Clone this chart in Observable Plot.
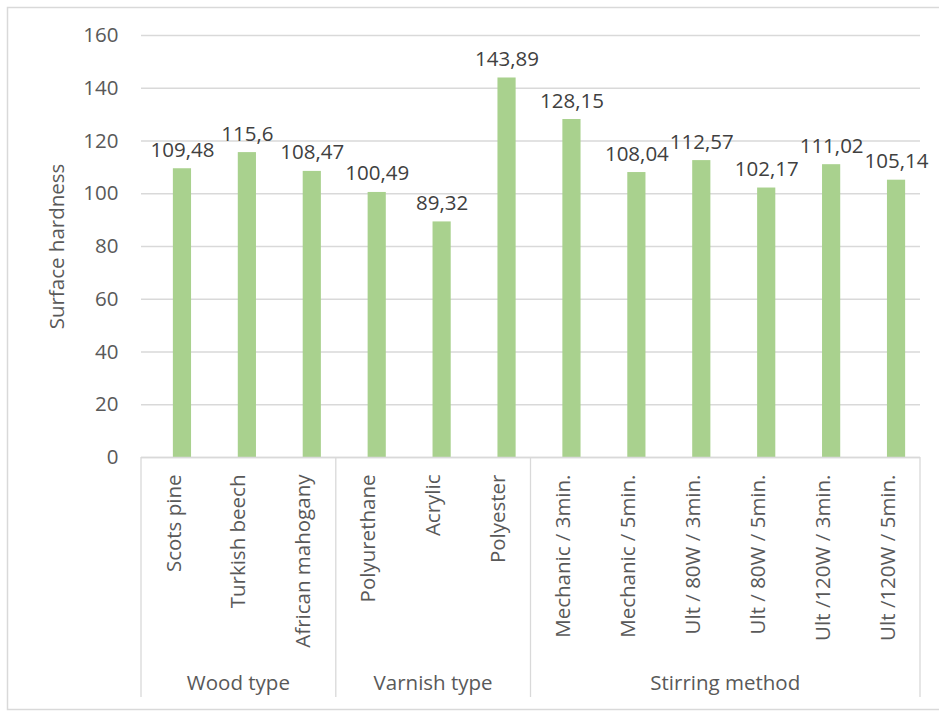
<!DOCTYPE html>
<html><head><meta charset="utf-8">
<script src="https://cdn.jsdelivr.net/npm/d3@7"></script>
<script src="https://cdn.jsdelivr.net/npm/@observablehq/plot@0.6"></script>
<style>body{margin:0;background:#fff} svg{display:block}</style>
</head><body><div id="chart"></div>
<script>
const categories = ["Scots pine", "Turkish beech", "African mahogany", "Polyurethane", "Acrylic", "Polyester",
  "Mechanic / 3min.", "Mechanic / 5min.", "Ult / 80W / 3min.", "Ult / 80W / 5min.", "Ult /120W / 3min.", "Ult /120W / 5min."];
const groupOf = ["Wood type", "Wood type", "Wood type", "Varnish type", "Varnish type", "Varnish type",
  "Stirring method", "Stirring method", "Stirring method", "Stirring method", "Stirring method", "Stirring method"];
const groupNames = ["Wood type", "Varnish type", "Stirring method"];
const values = [109.48, 115.6, 108.47, 100.49, 89.32, 143.89, 128.15, 108.04, 112.57, 102.17, 111.02, 105.14];
const yTicks = [0, 20, 40, 60, 80, 100, 120, 140, 160];

const data = categories.map((c, i) => ({category: c, group: groupOf[i], value: values[i],
  label: String(values[i]).replace(".", ",")}));

const font = "'Open Sans', sans-serif";
const fs = 20.5;
const textColor = "#595959";
const lineColor = "#d9d9d9";
const barShift = 8.5;

const plot = Plot.plot({
  width: 939, height: 711,
  marginLeft: 141, marginRight: 19, marginTop: 35, marginBottom: 254,
  style: {fontFamily: font, fontSize: fs + "px", color: textColor, background: "#fff", overflow: "visible"},
  x: {domain: categories, paddingInner: 0.72, paddingOuter: 0.36, round: false, label: null},
  y: {domain: [0, 160], label: null},
  marks: [
    Plot.gridY(yTicks, {stroke: lineColor, strokeOpacity: 1, strokeWidth: 1.3}),
    Plot.barY(data, {x: "category", y: "value", fill: "#a9d18e", dx: barShift}),
    Plot.ruleY([0], {stroke: lineColor, strokeWidth: 1.3}),
    Plot.text(data, {x: "category", y: "value", text: "label", dx: barShift, dy: -12, lineAnchor: "bottom",
      fill: "#404040", fontSize: fs}),
    Plot.axisY(yTicks, {tickSize: 0, tickPadding: 23, fontSize: fs, fill: textColor,
      label: "Surface hardness", labelAnchor: "center", labelArrow: "none", labelOffset: 92}),
    Plot.axisX({tickSize: 0, tickRotate: -90, tickPadding: 17, fontSize: fs, fill: textColor, label: null})
  ]
});

document.getElementById("chart").append(plot);

// category-axis group structure, positioned from Plot's own scales
const xs = plot.scale("x");
const ys = plot.scale("y");
const gap = (xs.step - xs.bandwidth) / 2;
const y0 = ys.apply(0);
const svg = d3.select(plot);

svg.insert("rect", ":first-child")
  .attr("x", 7.5).attr("y", 7.5).attr("width", 960).attr("height", 702)
  .attr("fill", "#fff").attr("stroke", lineColor).attr("stroke-width", 1.5);

const bounds = [];
groupNames.forEach(g => {
  const cats = categories.filter((c, i) => groupOf[i] === g);
  const left = xs.apply(cats[0]) - gap;
  const right = xs.apply(cats[cats.length - 1]) + xs.bandwidth + gap;
  bounds.push(left, right);
  svg.append("text")
    .attr("x", (left + right) / 2).attr("y", 690)
    .attr("text-anchor", "middle")
    .attr("font-family", font).attr("font-size", fs).attr("fill", textColor)
    .text(g);
});
Array.from(new Set(bounds.map(b => Math.round(b * 10) / 10))).forEach(bx => {
  svg.append("line")
    .attr("x1", bx).attr("x2", bx).attr("y1", y0).attr("y2", 697)
    .attr("stroke", lineColor).attr("stroke-width", 1.3);
});
</script>
</body></html>
